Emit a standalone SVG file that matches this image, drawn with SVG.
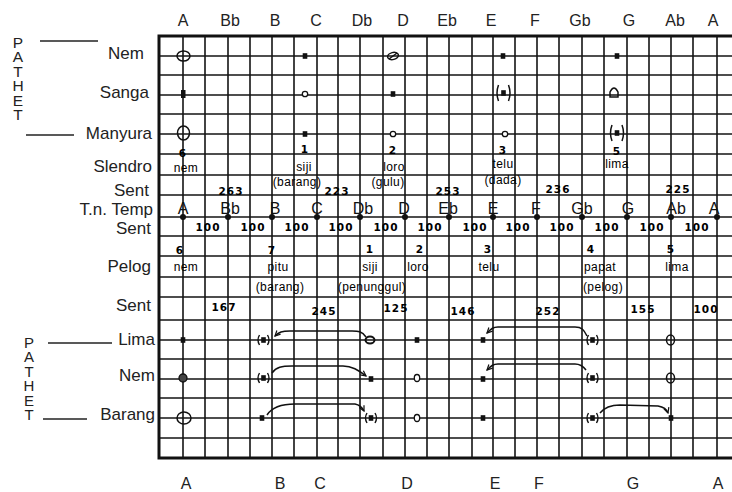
<svg xmlns="http://www.w3.org/2000/svg" width="732" height="492" viewBox="0 0 732 492">
<defs>
<style>
.bg{fill:#fff}
.grid{stroke:#151515;stroke-width:1.6;fill:none}
.thick{stroke:#111;stroke-width:3;fill:none}
.lbl{font-family:"Liberation Sans",Arial,sans-serif;font-size:17px;fill:#222;text-anchor:end}
.hdr{font-family:"Liberation Sans",Arial,sans-serif;font-size:16px;fill:#222;text-anchor:middle}
.tn{font-family:"Liberation Sans",Arial,sans-serif;font-size:16px;fill:#111;text-anchor:middle}
.pth{font-family:"Liberation Sans",Arial,sans-serif;fill:#222;writing-mode:vertical-rl;text-orientation:upright}
.sm{font-family:"Liberation Sans",Arial,sans-serif;font-size:12px;fill:#000;text-anchor:middle;letter-spacing:0.4px}
.num{font-family:"DejaVu Sans",sans-serif;font-size:10.5px;font-weight:bold;fill:#000;text-anchor:middle;letter-spacing:1px}
.rule{stroke:#222;stroke-width:1.5}
.sym{stroke:#111;stroke-width:1.5;fill:none}
.fill{fill:#111}
.conn{stroke:#111;stroke-width:1.5;fill:none}
</style>
<marker id="ah" viewBox="0 0 8 8" refX="7" refY="4" markerWidth="7" markerHeight="7" markerUnits="userSpaceOnUse" orient="auto">
<path d="M1,1 L7,4 L1,7" fill="none" stroke="#111" stroke-width="1.4"/>
</marker>
<rect id="sq" x="-2.3" y="-2.8" width="4.6" height="5.6"/>
<circle id="oc" r="2.7" fill="#fff" stroke="#111" stroke-width="1.3"/>
<path id="brS" d="M-4,-5 Q-7,0 -4,5 M4,-5 Q7,0 4,5" fill="none" stroke="#111" stroke-width="1.4"/>
<path id="brL" d="M-5,-8 Q-8,0 -5,8 M5,-8 Q8,0 5,8" fill="none" stroke="#111" stroke-width="1.5"/>
</defs>
<rect class="bg" x="0" y="0" width="732" height="492"/>

<g id="grid">
<path class="grid" d="M183,36V458M205,36V458M228,36V458M250,36V458M272,36V458M294,36V458M317,36V458M338,36V458M360,36V458M383,36V458M405,36V458M427,36V458M449,36V458M472,36V458M493,36V458M515,36V458M537,36V458M559,36V458M582,36V458M604,36V458M627,36V458M649,36V458M671,36V458M693,36V458M717,36V458"/>
<path class="grid" d="M159,56H732M159,75H732M159,95H732M159,114H732M159,134H732M159,154H732M159,175H732M159,195H732M159,217H732M159,236H732M159,256H732M159,277H732M159,297H732M159,320H732M159,340H732M159,359H732M159,379H732M159,398H732M159,418H732M159,438H732"/>
<path class="thick" d="M159,36H732M159,458H732M159,34.5V459.5"/>
</g>

<g id="headers">
<text class="hdr" x="183" y="26">A</text>
<text class="hdr" x="230" y="26">Bb</text>
<text class="hdr" x="275" y="26">B</text>
<text class="hdr" x="316" y="26">C</text>
<text class="hdr" x="362" y="26">Db</text>
<text class="hdr" x="403" y="26">D</text>
<text class="hdr" x="447" y="26">Eb</text>
<text class="hdr" x="491" y="26">E</text>
<text class="hdr" x="535" y="26">F</text>
<text class="hdr" x="580" y="26">Gb</text>
<text class="hdr" x="629" y="26">G</text>
<text class="hdr" x="675" y="26">Ab</text>
<text class="hdr" x="713" y="26">A</text>
<text class="hdr" x="186" y="489">A</text>
<text class="hdr" x="280" y="489">B</text>
<text class="hdr" x="320" y="489">C</text>
<text class="hdr" x="407" y="489">D</text>
<text class="hdr" x="495" y="489">E</text>
<text class="hdr" x="539" y="489">F</text>
<text class="hdr" x="633" y="489">G</text>
<text class="hdr" x="718" y="489">A</text>
</g>

<g id="row-labels">
<text class="lbl" x="144" y="59">Nem</text>
<text class="lbl" x="149" y="98">Sanga</text>
<text class="lbl" x="152" y="139">Manyura</text>
<text class="lbl" x="152" y="172">Slendro</text>
<text class="lbl" x="149" y="196">Sent</text>
<text class="lbl" x="153" y="215">T.n. Temp</text>
<text class="lbl" x="151" y="234">Sent</text>
<text class="lbl" x="151" y="272">Pelog</text>
<text class="lbl" x="151" y="311">Sent</text>
<text class="lbl" x="155" y="345">Lima</text>
<text class="lbl" x="155" y="381">Nem</text>
<text class="lbl" x="155" y="420">Barang</text>
</g>

<g id="pathet-top">
<text class="pth" x="18" y="34" style="font-size:15.5px;letter-spacing:-2.6px">PATHET</text>
<line class="rule" x1="40" y1="41" x2="98" y2="41"/>
<line class="rule" x1="26" y1="135" x2="74" y2="135"/>
</g>
<g id="pathet-bottom">
<text class="pth" x="29" y="334" style="font-size:15px;letter-spacing:-2.6px">PATHET</text>
<line class="rule" x1="48" y1="343" x2="112" y2="343"/>
<line class="rule" x1="43" y1="419" x2="87" y2="419"/>
</g>

<g id="slendro-nem">
<g id="sn-A"><ellipse class="sym" cx="183.5" cy="56" rx="6.5" ry="5"/></g>
<g id="sn-1"><use href="#sq" class="fill" x="305" y="56"/></g>
<g id="sn-2"><ellipse class="sym" cx="393" cy="56" rx="5.5" ry="3.5" transform="rotate(-15 393 56)"/><line class="sym" x1="389" y1="59" x2="397" y2="53"/></g>
<g id="sn-3"><use href="#sq" class="fill" x="503" y="56"/></g>
<g id="sn-5"><use href="#sq" class="fill" x="617" y="56"/></g>
</g>
<g id="slendro-sanga">
<g id="ss-A"><rect class="fill" x="181" y="90" width="4.5" height="8"/></g>
<g id="ss-1"><use href="#oc" x="305" y="94"/></g>
<g id="ss-2"><use href="#sq" class="fill" x="393" y="94"/></g>
<g id="ss-3"><use href="#brL" x="503.5" y="93"/><use href="#sq" class="fill" x="503.5" y="93"/></g>
<g id="ss-5"><path class="sym" d="M610,97 L610,92 Q614,84 618,92 L618,97 Z"/></g>
</g>
<g id="slendro-manyura">
<g id="sm-A"><ellipse class="sym" cx="183.5" cy="133" rx="6" ry="7"/></g>
<g id="sm-1"><use href="#sq" class="fill" x="305" y="134"/></g>
<g id="sm-2"><use href="#oc" x="393" y="134"/></g>
<g id="sm-3"><use href="#oc" x="505" y="134"/></g>
<g id="sm-5"><use href="#brL" x="617" y="133"/><use href="#sq" class="fill" x="617" y="133"/></g>
</g>

<g id="slendro-names">
<text class="num" x="183" y="157">6</text>
<text class="num" x="305" y="153">1</text>
<text class="num" x="393" y="154">2</text>
<text class="num" x="503" y="154">3</text>
<text class="num" x="617" y="155">5</text>
<text class="sm" x="186" y="172">nem</text>
<text class="sm" x="304" y="171">siji</text>
<text class="sm" x="394" y="171">loro</text>
<text class="sm" x="503" y="168">telu</text>
<text class="sm" x="617" y="168">lima</text>
<text class="sm" x="297" y="186">(barang)</text>
<text class="sm" x="388" y="186">(gulu)</text>
<text class="sm" x="503" y="184">(dada)</text>
<text class="num" x="231" y="195">263</text>
<text class="num" x="337" y="195">223</text>
<text class="num" x="448" y="195">253</text>
<text class="num" x="558" y="193">236</text>
<text class="num" x="678" y="193">225</text>
</g>

<g id="tempered">
<text class="tn" x="183" y="214">A</text>
<text class="tn" x="230" y="214">Bb</text>
<text class="tn" x="275" y="214">B</text>
<text class="tn" x="317" y="214">C</text>
<text class="tn" x="363" y="214">Db</text>
<text class="tn" x="404" y="214">D</text>
<text class="tn" x="448" y="214">Eb</text>
<text class="tn" x="493" y="214">E</text>
<text class="tn" x="536" y="214">F</text>
<text class="tn" x="582" y="214">Gb</text>
<text class="tn" x="628" y="214">G</text>
<text class="tn" x="676" y="214">Ab</text>
<text class="tn" x="714" y="214">A</text>
<g class="fill">
<circle cx="183" cy="217" r="3"/><circle cx="228" cy="217" r="3"/><circle cx="272" cy="217" r="3"/><circle cx="317" cy="217" r="3"/><circle cx="360" cy="217" r="3"/><circle cx="405" cy="217" r="3"/><circle cx="449" cy="217" r="3"/><circle cx="493" cy="217" r="3"/><circle cx="537" cy="217" r="3"/><circle cx="582" cy="217" r="3"/><circle cx="627" cy="217" r="3"/><circle cx="671" cy="217" r="3"/><circle cx="717" cy="217" r="3"/>
</g>
<text class="num" x="208" y="231">100</text>
<text class="num" x="253" y="231">100</text>
<text class="num" x="297" y="231">100</text>
<text class="num" x="341" y="231">100</text>
<text class="num" x="386" y="231">100</text>
<text class="num" x="430" y="231">100</text>
<text class="num" x="475" y="231">100</text>
<text class="num" x="518" y="231">100</text>
<text class="num" x="562" y="231">100</text>
<text class="num" x="607" y="231">100</text>
<text class="num" x="652" y="231">100</text>
<text class="num" x="697" y="231">100</text>
</g>

<g id="pelog-names">
<text class="num" x="180" y="254">6</text>
<text class="num" x="272" y="254">7</text>
<text class="num" x="370" y="253">1</text>
<text class="num" x="420" y="253">2</text>
<text class="num" x="488" y="253">3</text>
<text class="num" x="591" y="253">4</text>
<text class="num" x="671" y="253">5</text>
<text class="sm" x="186" y="271">nem</text>
<text class="sm" x="278" y="271">pitu</text>
<text class="sm" x="370" y="271">siji</text>
<text class="sm" x="418" y="271">loro</text>
<text class="sm" x="489" y="271">telu</text>
<text class="sm" x="600" y="271">papat</text>
<text class="sm" x="677" y="271">lima</text>
<text class="sm" x="280" y="291">(barang)</text>
<text class="sm" x="372" y="291">(penunggul)</text>
<text class="sm" x="603" y="291">(pelog)</text>
<text class="num" x="224" y="311">167</text>
<text class="num" x="324" y="315">245</text>
<text class="num" x="396" y="312">125</text>
<text class="num" x="463" y="315">146</text>
<text class="num" x="548" y="315">252</text>
<text class="num" x="643" y="313">155</text>
<text class="num" x="706" y="313">100</text>
</g>

<g id="pelog-lima">
<g id="pl-A"><use href="#sq" class="fill" x="183" y="340"/></g>
<g id="pl-7"><use href="#brS" x="263.5" y="340"/><use href="#sq" class="fill" x="263.5" y="340"/></g>
<g id="pl-1"><ellipse cx="370" cy="340" rx="4.5" ry="3.5" fill="none" stroke="#111" stroke-width="2"/></g>
<g id="pl-2"><use href="#sq" class="fill" x="417" y="340"/></g>
<g id="pl-3"><use href="#sq" class="fill" x="483" y="340"/></g>
<g id="pl-4"><use href="#brS" x="592.5" y="340"/><use href="#sq" class="fill" x="592.5" y="340"/></g>
<g id="pl-5"><ellipse class="sym" cx="670.5" cy="340" rx="4" ry="5"/></g>
</g>
<g id="pelog-nem">
<g id="pn-A"><circle cx="183" cy="378" r="4" fill="#444" stroke="#111" stroke-width="1.3"/></g>
<g id="pn-7"><use href="#brS" x="263.5" y="378"/><use href="#sq" class="fill" x="263.5" y="378"/></g>
<g id="pn-1"><use href="#sq" class="fill" x="371" y="379"/></g>
<g id="pn-2"><ellipse cx="417" cy="378" rx="2.7" ry="3.5" fill="#fff" stroke="#111" stroke-width="1.3"/></g>
<g id="pn-3"><use href="#sq" class="fill" x="483" y="379"/></g>
<g id="pn-4"><use href="#brS" x="592.5" y="378"/><use href="#sq" class="fill" x="592.5" y="378"/></g>
<g id="pn-5"><ellipse class="sym" cx="670.5" cy="378" rx="4" ry="5"/></g>
</g>
<g id="pelog-barang">
<g id="pb-A"><ellipse class="sym" cx="184" cy="418" rx="7" ry="6"/></g>
<g id="pb-7"><use href="#sq" class="fill" x="262" y="418"/></g>
<g id="pb-1"><use href="#brS" x="371" y="418"/><use href="#sq" class="fill" x="371" y="418"/></g>
<g id="pb-2"><ellipse cx="417" cy="418" rx="2.7" ry="3.5" fill="#fff" stroke="#111" stroke-width="1.3"/></g>
<g id="pb-3"><use href="#sq" class="fill" x="483" y="418"/></g>
<g id="pb-4"><use href="#brS" x="592.5" y="418"/><use href="#sq" class="fill" x="592.5" y="418"/></g>
<g id="pb-5"><use href="#sq" class="fill" x="671" y="418"/></g>
</g>

<g id="connectors">
<path class="conn" marker-end="url(#ah)" d="M366,337 C362,331 358,331 352,331 L290,331 C282,331 279,332 275,336"/>
<path class="conn" marker-end="url(#ah)" d="M272,373 C276,367 282,366 292,366 L343,366 C352,366 358,370 366,376"/>
<path class="conn" marker-end="url(#ah)" d="M267,415 C272,407 282,404 295,404 L355,404 C360,405 362,407 364,411"/>
<path class="conn" marker-end="url(#ah)" d="M587,336 C584,330 582,327 575,327 L498,327 C493,327 491,329 487,333"/>
<path class="conn" marker-end="url(#ah)" d="M586,370 C583,366 580,364 575,364 L498,364 C493,364 491,366 487,370"/>
<path class="conn" marker-end="url(#ah)" d="M600,413 C604,408 610,405 620,405 L658,406 C664,407 667,410 668,413"/>
</g>
</svg>
